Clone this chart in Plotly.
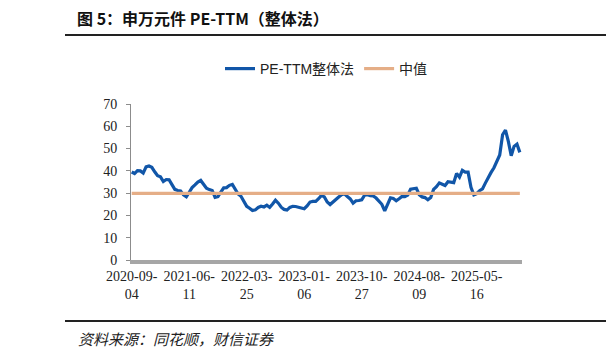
import plotly.graph_objects as go

# ---- data (biweekly samples of a weekly series) ----
week_index = list(range(0, 272, 2))
pe_ttm = [
    39.5, 38.8, 40.1, 40.0, 39.0, 41.8, 42.2, 41.6, 39.6, 37.8,
    37.3, 35.2, 36.1, 36.0, 33.8, 31.7, 31.2, 31.0, 29.2, 28.4,
    30.4, 32.5, 33.7, 35.0, 35.7, 33.9, 32.2, 31.6, 31.2, 28.1,
    28.4, 30.5, 32.4, 32.5, 33.5, 33.9, 32.0, 29.6, 28.6, 26.3,
    24.1, 23.2, 22.2, 22.5, 23.6, 24.1, 23.8, 24.6, 23.6, 25.1,
    26.8, 25.5, 23.7, 22.7, 22.4, 23.6, 24.1, 24.0, 23.6, 23.2,
    23.0, 24.3, 26.0, 26.3, 26.3, 27.5, 29.0, 28.3, 26.0, 24.9,
    26.2, 27.4, 28.3, 29.3, 29.7, 28.5, 27.4, 25.5, 26.6, 26.7,
    27.0, 29.1, 29.3, 28.9, 28.7, 27.8, 26.5, 25.0, 22.0, 25.4,
    27.9, 27.6, 26.6, 27.5, 28.5, 28.4, 29.1, 31.8, 32.0, 32.2,
    29.3, 28.3, 28.0, 27.0, 28.0, 31.7, 32.9, 34.6, 34.0, 33.4,
    35.1, 34.9, 34.7, 38.8, 37.2, 40.2, 39.4, 39.4, 32.6, 29.2,
    29.8, 31.1, 31.9, 34.5, 37.2, 39.3, 41.4, 43.9, 47.1, 56.2,
    58.3, 53.2, 46.8, 51.0, 52.0, 48.3,
]
median_value = [29.9, 29.9]
median_x = [week_index[0], week_index[-1]]

tick_index = [0, 40, 80, 120, 160, 200, 240]
tick_labels = ["2020-09-<br>04", "2021-06-<br>11", "2022-03-<br>25", "2023-01-<br>06",
               "2023-10-<br>27", "2024-08-<br>09", "2025-05-<br>16"]

series_names = ["PE-TTM整体法", "中值"]

# ---- layout geometry (pixels) ----
W, H = 606, 358
PL, PR, PT, PB = 131, 522, 104, 260


def px_x(px):
    return (px - PL) / (PR - PL)


def px_y(py):
    return (PB - py) / (PB - PT)


SERIF = "Liberation Serif, Times New Roman, Noto Serif CJK SC, serif"
SANS = "Liberation Sans, Arial, Noto Sans CJK SC, sans-serif"
CJK = "Noto Sans CJK SC, sans-serif"

fig = go.Figure()
fig.add_trace(go.Scatter(
    x=week_index, y=pe_ttm, mode="lines", name=series_names[0],
    line=dict(color="#1156A8", width=3.2),
))
fig.add_trace(go.Scatter(
    x=median_x, y=median_value, mode="lines", name=series_names[1],
    line=dict(color="#E5AE87", width=3.2),
))

fig.update_layout(
    width=W, height=H,
    margin=dict(l=PL, r=W - PR, t=PT, b=H - PB, pad=0),
    paper_bgcolor="white", plot_bgcolor="white",
    showlegend=True,
    legend=dict(
        orientation="h", x=0.5, xanchor="center", y=px_y(69), yanchor="middle",
        font=dict(family=SANS, size=14, color="#222"),
        itemwidth=30, tracegroupgap=0, bgcolor="rgba(0,0,0,0)",
    ),
    xaxis=dict(
        range=[-0.5, 271.5], showgrid=False, zeroline=False,
        showline=True, linecolor="#A6A6A6", linewidth=4,
        tickmode="array", tickvals=tick_index, ticktext=tick_labels,
        ticks="", tickfont=dict(family=SERIF, size=14, color="#222"),
    ),
    yaxis=dict(
        range=[0, 70], dtick=10, showgrid=False, zeroline=False,
        showline=True, linecolor="#8C8C8C", linewidth=1,
        ticks="outside", ticklen=4, tickcolor="#8C8C8C",
        tickfont=dict(family=SERIF, size=14, color="#222"),
        ticklabelstandoff=6,
    ),
)

# title
fig.add_annotation(
    xref="paper", yref="paper", x=px_x(75), y=px_y(18), xanchor="left", yanchor="middle",
    text="<b>图 5：申万元件 PE-TTM（整体法）</b>", showarrow=False,
    font=dict(family=CJK, size=16, color="#111"),
)
# rule under title
fig.add_shape(type="line", xref="paper", yref="paper",
              x0=px_x(65), x1=px_x(606), y0=px_y(35), y1=px_y(35),
              line=dict(color="#222", width=2))
# rule above footer
fig.add_shape(type="line", xref="paper", yref="paper",
              x0=px_x(65), x1=px_x(606), y0=px_y(321), y1=px_y(321),
              line=dict(color="#222", width=2))
# footer
fig.add_annotation(
    xref="paper", yref="paper", x=px_x(76), y=px_y(338), xanchor="left", yanchor="middle",
    text="资料来源：同花顺，财信证券", showarrow=False,
    font=dict(family=CJK, size=15, color="#222", style="italic"),
)

fig.write_html("out.html", config={"displayModeBar": False})
